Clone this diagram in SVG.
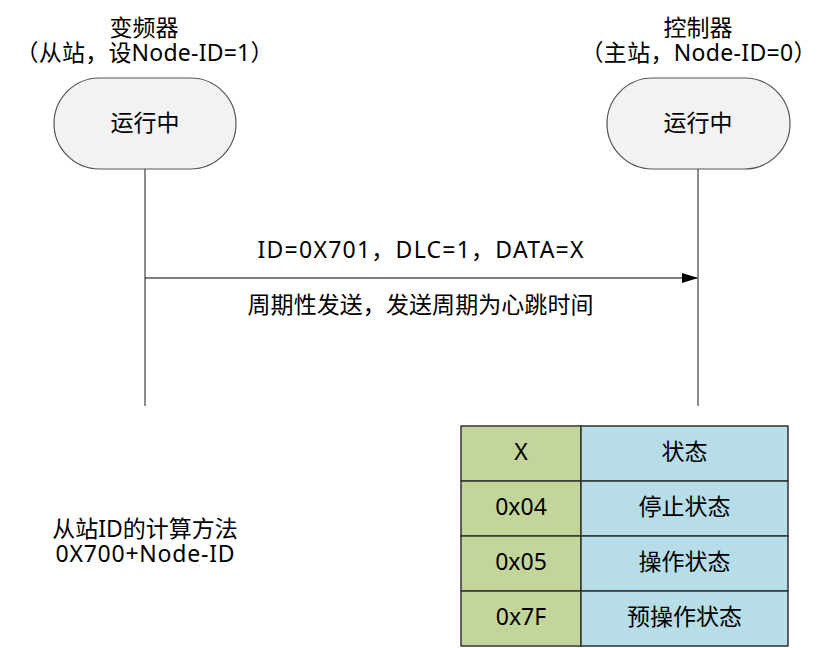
<svg xmlns="http://www.w3.org/2000/svg" width="833" height="648" viewBox="0 0 833 648">
<style>
text{font-family:"Noto Sans","Noto Sans CJK SC",sans-serif;font-size:23px;fill:#000;text-anchor:middle}
.st{fill:#f2f2f2;stroke:#555;stroke-width:1.2}
.life{stroke:#666;stroke-width:1.5;fill:none}
.cg{fill:#c4d59b;stroke:#333;stroke-width:1.5}
.cb{fill:#b7dde8;stroke:#333;stroke-width:1.5}
</style>
<defs>
<marker id="ah" markerWidth="16" markerHeight="10" refX="15" refY="5" orient="auto" markerUnits="userSpaceOnUse">
<path d="M0,0 L16,5 L0,10 Z" fill="#000"/>
</marker>
</defs>
<rect width="833" height="648" fill="#fff"/>
<g id="slave">
<text x="144" y="36">变频器</text>
<text x="144.5" y="61" textLength="258" lengthAdjust="spacing">（从站，设Node-ID=1）</text>
<rect class="st" x="54" y="78" width="182" height="91" rx="45.5"/>
<text x="145" y="131">运行中</text>
</g>
<g id="master">
<text x="698" y="36">控制器</text>
<text x="698.5" y="61" textLength="236" lengthAdjust="spacing">（主站，Node-ID=0）</text>
<rect class="st" x="607" y="78" width="183" height="91" rx="45.5"/>
<text x="698" y="131">运行中</text>
</g>
<g id="connectors">
<line class="life" x1="145" y1="169" x2="145" y2="406"/>
<line class="life" x1="698" y1="169" x2="698" y2="406"/>
<line x1="145" y1="278" x2="697" y2="278" stroke="#000" stroke-width="1.2" marker-end="url(#ah)"/>
<text x="420.5" y="258" textLength="326" lengthAdjust="spacing">ID=0X701，DLC=1，DATA=X</text>
<text x="420.5" y="313" textLength="346" lengthAdjust="spacing">周期性发送，发送周期为心跳时间</text>
</g>
<g id="note">
<text x="145" y="537">从站ID的计算方法</text>
<text x="145" y="562" textLength="179" lengthAdjust="spacing">0X700+Node-ID</text>
</g>
<g id="table">
<rect class="cg" x="461" y="426" width="120" height="55"/>
<rect class="cb" x="581" y="426" width="207" height="55"/>
<rect class="cg" x="461" y="481" width="120" height="55"/>
<rect class="cb" x="581" y="481" width="207" height="55"/>
<rect class="cg" x="461" y="536" width="120" height="55"/>
<rect class="cb" x="581" y="536" width="207" height="55"/>
<rect class="cg" x="461" y="591" width="120" height="55"/>
<rect class="cb" x="581" y="591" width="207" height="55"/>
<text x="521" y="460">X</text>
<text x="684.5" y="460">状态</text>
<text x="521" y="515">0x04</text>
<text x="684.5" y="515">停止状态</text>
<text x="521" y="570">0x05</text>
<text x="684.5" y="570">操作状态</text>
<text x="521" y="625">0x7F</text>
<text x="684.5" y="625">预操作状态</text>
</g>
</svg>
